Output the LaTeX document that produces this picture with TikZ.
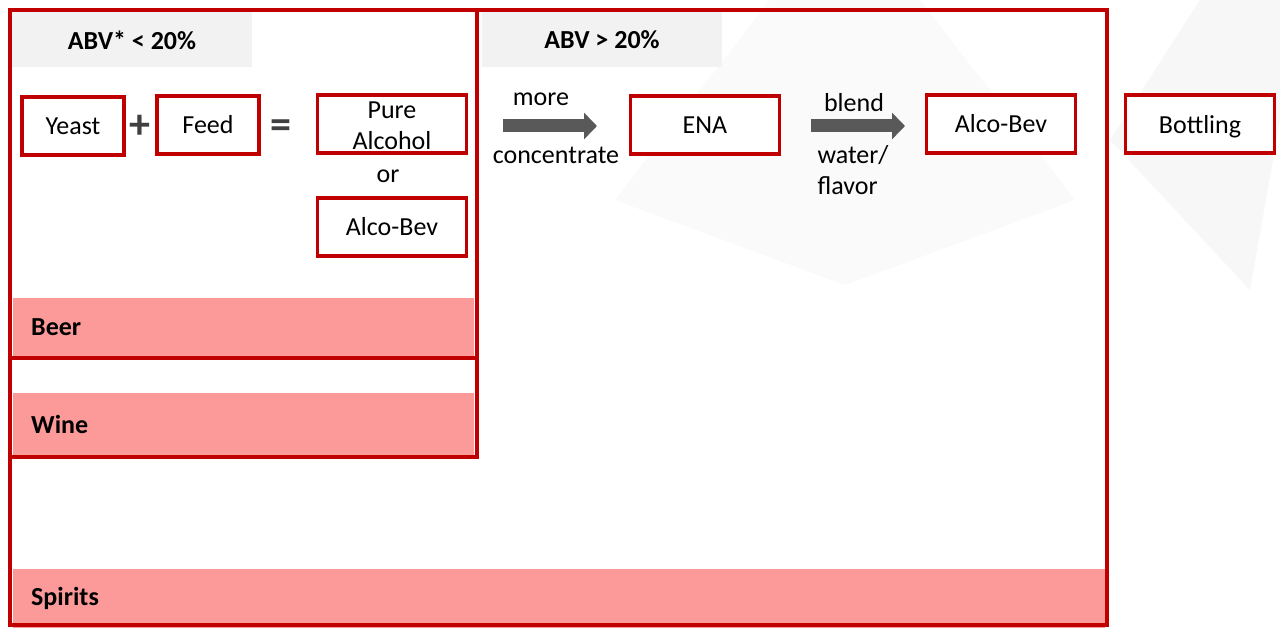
\documentclass[tikz,border=0pt]{standalone}
\usepackage{fontspec}
\setmainfont{Carlito}
\usetikzlibrary{arrows.meta}

\definecolor{boxred}{HTML}{C00000}
\definecolor{bandpink}{HTML}{FC9A9A}
\definecolor{headgray}{HTML}{F2F2F2}
\definecolor{arrowgray}{HTML}{595959}
\definecolor{signgray}{HTML}{404040}

\def\beerframe{(10,10) rectangle (477,358)}
\def\wineframe{(10,10) rectangle (477,457)}
\def\spiritsframe{(10,10) rectangle (1107,625)}

\begin{document}
\begin{tikzpicture}[x=1pt,y=-1pt,
    every node/.style={font=\fontsize{26}{31}\selectfont},
    stage/.style={draw=boxred, line width=3.5pt, fill=white, inner sep=0pt,
                  minimum width=149pt, minimum height=58pt, align=center},
    smallstage/.style={stage, minimum width=102pt},
    headbox/.style={fill=headgray, minimum width=240pt, minimum height=55pt,
                    font=\fontsize{26}{31}\selectfont\bfseries},
    band/.style={fill=bandpink, anchor=west, inner xsep=18pt, inner ysep=0pt, align=left,
                 font=\fontsize{26}{31}\selectfont\bfseries},
    frame/.style={draw=boxred, line width=4.5pt},
    fatarrow/.style={draw=arrowgray, line width=13pt, -{Triangle[length=13pt,width=26pt]}},
    sign/.style={text=signgray, font=\fontsize{42}{42}\selectfont\bfseries, inner sep=0pt}]
  \useasboundingbox (0,0) rectangle (1280,628);
  \fill[white] (0,0) rectangle (1280,628);

  % faint background pattern
  \fill[black!2] (615,200) -- (770,0) -- (920,0) -- (1075,200) -- (845,285) -- cycle;
  \fill[black!3] (1110,140) -- (1200,0) -- (1280,0) -- (1280,120) -- (1250,290) -- cycle;

  % headers
  \node[headbox] (lowhead) at (132,40) {ABV* < 20\%};
  \node[headbox] (highhead) at (602,40) {ABV > 20\%};

  % drink bands
  \node[band, text width=425pt, minimum height=58pt] (beer) at (13,327) {Beer};
  \node[band, text width=425pt, minimum height=62pt] (wine) at (13,424) {Wine};
  \node[band, text width=1056pt, minimum height=59pt] (spirits) at (13,598) {Spirits};

  % category frames
  \draw[frame] \spiritsframe;
  \draw[frame] \wineframe;
  \draw[frame] \beerframe;

  % fermentation
  \node[smallstage] (yeast) at (73,126) {Yeast};
  \node[sign] (plus) at (140,127) {+};
  \node[smallstage] (feed) at (208,125) {Feed};
  \node[sign] (equals) at (281,129) {=};
  \node[stage] (pure) at (392,124) {};
  \node[align=center] (puretext) at (392,126) {Pure\\Alcohol};
  \node (or) at (388,176) {or};
  \node[stage] (lowbev) at (392,227) {Alco-Bev};

  % distilling and blending
  \coordinate (distA) at (503,126);
  \coordinate (distB) at (597,126);
  \draw[fatarrow] (distA) -- (distB);
  \node (more) at (541,99) {more};
  \node (concentrate) at (556,155) {concentrate};
  \node[stage] (ena) at (705,125) {ENA};

  \coordinate (blendA) at (811,126);
  \coordinate (blendB) at (905,126);
  \draw[fatarrow] (blendA) -- (blendB);
  \node (blend) at (854,103) {blend};
  \node[align=left] (water) at (853,170) {water/\\flavor};
  \node[stage] (highbev) at (1001,124) {Alco-Bev};

  \node[stage] (bottling) at (1200,124) {};
  \node (bottlingtext) at (1200,127) {Bottling};
\end{tikzpicture}
\end{document}
